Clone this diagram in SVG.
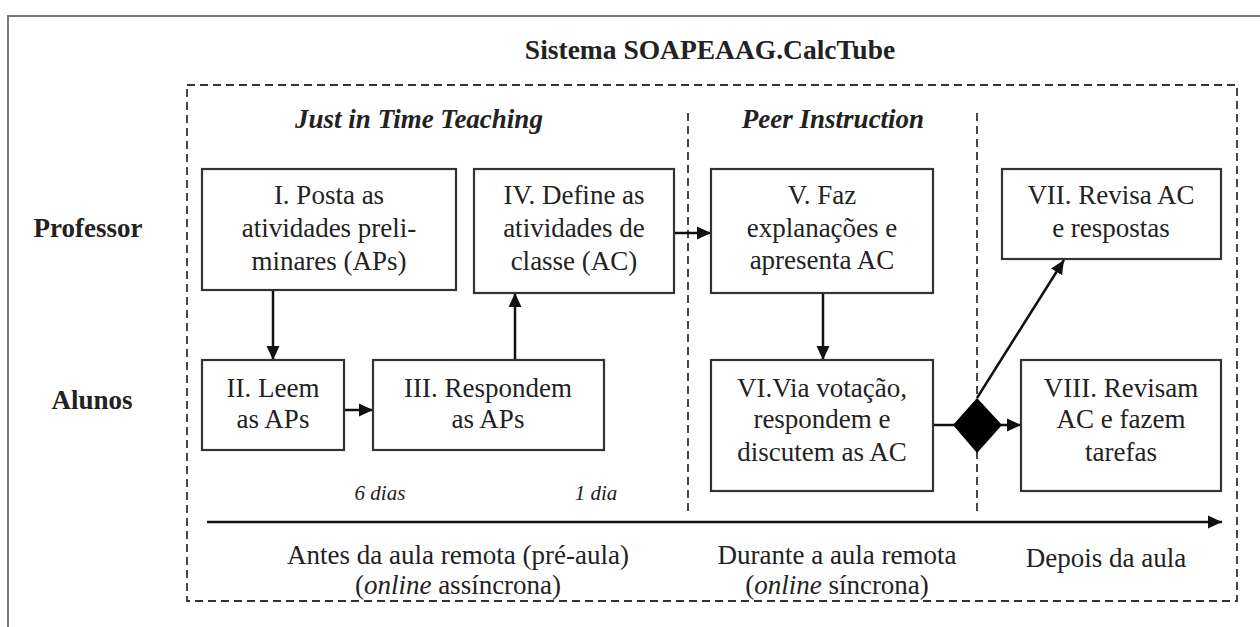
<svg xmlns="http://www.w3.org/2000/svg" width="1260" height="627" viewBox="0 0 1260 627">
<style>
text{font-family:"Liberation Serif","Times New Roman",serif;fill:#222;}
.t{font-size:27px;text-anchor:middle;}
.lab{font-size:27px;text-anchor:middle;}
.ttl{font-size:27.5px;text-anchor:middle;font-weight:bold;}
.b{font-weight:bold;}
.bi{font-weight:bold;font-style:italic;font-size:27px;text-anchor:middle;}
.sm{font-style:italic;font-size:21px;text-anchor:middle;}
.box{fill:#fff;stroke:#333;stroke-width:2.2;}
.dash{fill:none;stroke:#333;stroke-width:1.8;stroke-dasharray:8 5;}
.con{stroke:#111;stroke-width:2.5;fill:none;}
</style>
<defs>
<marker id="ah" markerUnits="userSpaceOnUse" markerWidth="16" markerHeight="16" refX="14" refY="8" orient="auto">
<path d="M0,1.5 L14,8 L0,14.5 z" fill="#111"/>
</marker>
</defs>
<rect width="1260" height="627" fill="#fff"/>
<g id="frame">
<path d="M8,627 L8,16 L1260,16" fill="none" stroke="#777" stroke-width="2"/>
</g>
<g id="system">
<rect class="dash" x="187" y="85" width="1050" height="516"/>
<line class="dash" x1="688" y1="113" x2="688" y2="516"/>
<line class="dash" x1="977" y1="113" x2="977" y2="516"/>
<text class="ttl" x="710" y="59">Sistema SOAPEAAG.CalcTube</text>
<text class="bi" x="419" y="128">Just in Time Teaching</text>
<text class="bi" x="833" y="128">Peer Instruction</text>
<text class="lab b" x="88" y="237">Professor</text>
<text class="lab b" x="92" y="409">Alunos</text>
</g>
<g id="connectors">
<line class="con" x1="273" y1="290" x2="273" y2="360" marker-end="url(#ah)"/>
<line class="con" x1="344" y1="410" x2="373" y2="410" marker-end="url(#ah)"/>
<line class="con" x1="515" y1="360" x2="515" y2="293" marker-end="url(#ah)"/>
<line class="con" x1="674" y1="233" x2="711" y2="233" marker-end="url(#ah)"/>
<line class="con" x1="823" y1="293" x2="823" y2="360" marker-end="url(#ah)"/>
<line class="con" x1="933" y1="425" x2="955" y2="425"/>
<line class="con" x1="1000" y1="425" x2="1021" y2="425" marker-end="url(#ah)"/>
<line class="con" x1="977" y1="398" x2="1064" y2="260" marker-end="url(#ah)"/>
<line class="con" stroke-width="3" x1="207" y1="522" x2="1222" y2="522" marker-end="url(#ah)"/>
</g>
<g id="n1">
<rect class="box" x="202" y="169" width="254" height="121"/>
<text class="t" x="329" y="204">I. Posta as</text>
<text class="t" x="329" y="237">atividades preli-</text>
<text class="t" x="329" y="270">minares (APs)</text>
</g>
<g id="n2">
<rect class="box" x="202" y="360" width="142" height="90"/>
<text class="t" x="273" y="397">II. Leem</text>
<text class="t" x="273" y="428">as APs</text>
</g>
<g id="n3">
<rect class="box" x="373" y="360" width="231" height="90"/>
<text class="t" x="488" y="397">III. Respondem</text>
<text class="t" x="488" y="428">as APs</text>
</g>
<g id="n4">
<rect class="box" x="474" y="169" width="200" height="124"/>
<text class="t" x="574" y="204">IV. Define as</text>
<text class="t" x="574" y="237">atividades de</text>
<text class="t" x="574" y="270">classe (AC)</text>
</g>
<g id="n5">
<rect class="box" x="711" y="169" width="222" height="124"/>
<text class="t" x="822" y="204">V. Faz</text>
<text class="t" x="822" y="237">explanações e</text>
<text class="t" x="822" y="269">apresenta AC</text>
</g>
<g id="n6">
<rect class="box" x="711" y="360" width="222" height="131"/>
<text class="t" x="822" y="397">VI.Via votação,</text>
<text class="t" x="822" y="428">respondem e</text>
<text class="t" x="822" y="461">discutem as  AC</text>
</g>
<g id="n7">
<rect class="box" x="1002" y="169" width="219" height="90"/>
<text class="t" x="1111" y="204">VII. Revisa AC</text>
<text class="t" x="1111" y="237">e respostas</text>
</g>
<g id="n8">
<rect class="box" x="1021" y="360" width="200" height="131"/>
<text class="t" x="1121" y="397">VIII.  Revisam</text>
<text class="t" x="1121" y="428">AC e fazem</text>
<text class="t" x="1121" y="461">tarefas</text>
</g>
<g id="decision">
<polygon points="977,398 1002,425 977,453 953,425" fill="#000"/>
</g>
<g id="timeline-labels">
<text class="sm" x="380" y="500">6 dias</text>
<text class="sm" x="596" y="500">1 dia</text>
<text class="lab" x="458" y="564">Antes da aula remota (pré-aula)</text>
<text class="lab" x="458" y="594">(<tspan font-style="italic">online</tspan> assíncrona)</text>
<text class="lab" x="837" y="564">Durante a aula remota</text>
<text class="lab" x="837" y="594">(<tspan font-style="italic">online</tspan> síncrona)</text>
<text class="lab" x="1106" y="567">Depois da aula</text>
</g>
</svg>
